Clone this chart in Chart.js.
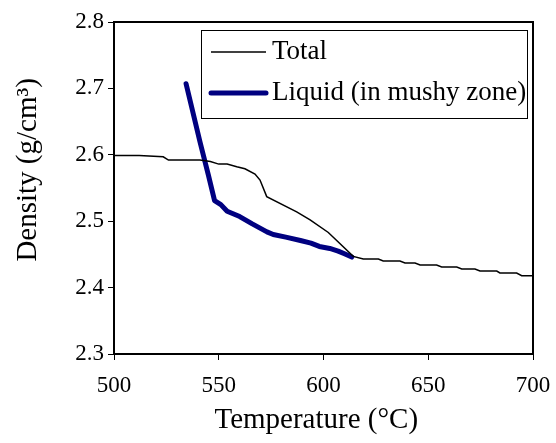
<!DOCTYPE html>
<html>
<head>
<meta charset="utf-8">
<script src="https://cdn.jsdelivr.net/npm/chart.js@4"></script>
<style>
html,body{margin:0;padding:0;background:#fff;}
#wrap{width:556px;height:443px;position:relative;}
</style>
</head>
<body>
<div id="wrap"><canvas id="c" width="556" height="443"></canvas></div>
<script>
const totalT = [500,512,523.5,526,541,546,550,554,558.6,562.5,567.3,569.7,572.9,587.2,593.6,602.3,614.2,619,626.2,628.5,636.5,638.9,643.7,646.1,654,656.4,663.6,666,672.3,674.7,682.7,684.2,692.2,694.6,700];
const totalD = [2.599,2.599,2.597,2.592,2.592,2.590,2.586,2.586,2.582,2.579,2.571,2.562,2.537,2.514,2.502,2.483,2.447,2.443,2.443,2.440,2.440,2.437,2.437,2.434,2.434,2.431,2.431,2.428,2.428,2.425,2.425,2.422,2.422,2.418,2.418];
const liquidT = [534.4,541,545,548,551,554,560,566,573,576,582,589,594,598,603,607,610,613.5];
const liquidD = [2.707,2.62,2.57,2.531,2.525,2.515,2.507,2.496,2.484,2.480,2.476,2.471,2.467,2.462,2.459,2.455,2.451,2.446];
const xTicks = [500,550,600,650,700];
const yTicks = [2.3,2.4,2.5,2.6,2.7,2.8];
const seriesLabels = ['Total','Liquid (in mushy zone)'];

const FONT = '"Liberation Serif","Times New Roman",serif';

const toPts = (xs, ys) => xs.map((x,i)=>({x:x,y:ys[i]}));

const framePlugin = {
  id:'frame',
  afterDraw(chart){
    const {ctx, chartArea:a} = chart;
    ctx.save();
    ctx.strokeStyle='#000';
    ctx.lineWidth=2;
    ctx.strokeRect(a.left, a.top, a.right-a.left, a.bottom-a.top);
    // legend box
    const lx=201, ly=30, lw=326, lh=88;
    ctx.fillStyle='#fff';
    ctx.fillRect(lx,ly,lw,lh);
    ctx.lineWidth=1;
    ctx.strokeStyle='#000';
    ctx.strokeRect(lx+0.5,ly+0.5,lw,lh);
    const ds = chart.data.datasets;
    const rows=[52,93];
    ds.forEach((d,i)=>{
      ctx.beginPath();
      ctx.strokeStyle=d.borderColor;
      ctx.lineWidth=d.borderWidth;
      ctx.lineCap= i===1?'round':'butt';
      ctx.moveTo(211, rows[i]);
      ctx.lineTo(266, rows[i]);
      ctx.stroke();
      ctx.fillStyle='#000';
      ctx.font='27px '+FONT;
      ctx.textBaseline='middle';
      ctx.textAlign='left';
      ctx.fillText(d.label, 272, rows[i]);
    });
    ctx.restore();
  }
};

new Chart(document.getElementById('c'), {
  type:'line',
  data:{
    datasets:[
      {label:seriesLabels[0], data:toPts(totalT,totalD), borderColor:'#000', borderWidth:1.5, pointRadius:0, tension:0, fill:false},
      {label:seriesLabels[1], data:toPts(liquidT,liquidD), borderColor:'#000080', borderWidth:5, pointRadius:0, tension:0, fill:false, borderCapStyle:'round', borderJoinStyle:'round'}
    ]
  },
  options:{
    responsive:false,
    animation:false,
    devicePixelRatio:1,
    layout:{padding:{top:22,right:23,left:0,bottom:0}},
    plugins:{legend:{display:false},tooltip:{enabled:false}},
    scales:{
      x:{
        type:'linear', min:500, max:700,
        afterBuildTicks(s){ s.ticks = xTicks.map(v=>({value:v})); },
        afterFit(s){ s.height=89; s.paddingLeft=0; s.paddingRight=0; },
        ticks:{color:'#000', font:{family:FONT,size:23}, padding:12, maxRotation:0},
        grid:{drawOnChartArea:false, drawTicks:true, tickLength:6, color:'#000', lineWidth:1},
        border:{display:true,color:'#000',width:2},
        title:{display:true, text:'Temperature (°C)  ', color:'#000', font:{family:FONT,size:29}, padding:{top:0,bottom:5}}
      },
      y:{
        type:'linear', min:2.3, max:2.8,
        afterBuildTicks(s){ s.ticks = yTicks.map(v=>({value:v})); },
        afterFit(s){ s.width=114; s.paddingTop=0; s.paddingBottom=0; },
        ticks:{color:'#000', font:{family:FONT,size:23}, padding:4, callback:v=>Number(v).toFixed(1)},
        grid:{drawOnChartArea:false, drawTicks:true, tickLength:6, color:'#000', lineWidth:1},
        border:{display:true,color:'#000',width:2},
        title:{display:true, text:'     Density (g/cm³)', color:'#000', font:{family:FONT,size:29}, padding:{top:11,bottom:0}}
      }
    }
  },
  plugins:[framePlugin]
});
</script>
</body>
</html>
